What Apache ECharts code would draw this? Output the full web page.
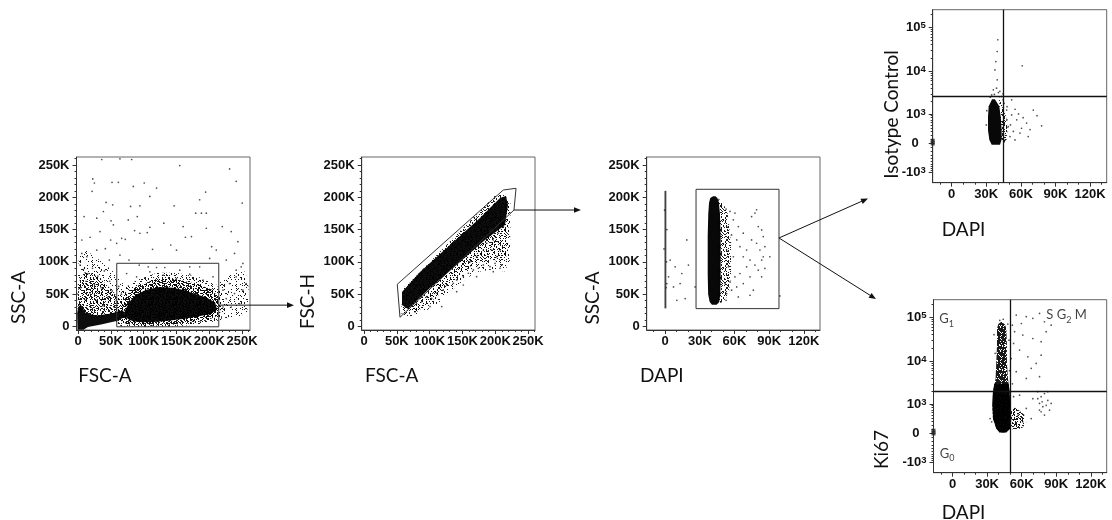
<!DOCTYPE html>
<html><head><meta charset="utf-8">
<script src="https://cdn.jsdelivr.net/npm/echarts@6/dist/echarts.min.js"></script>
<style>html,body{margin:0;padding:0;background:#fff}#c{width:1112px;height:520px}</style>
</head><body><div id="c"></div>
<script>
// ---------- tick values ----------
const fscTicks = [0, 50, 100, 150, 200, 250];               // K
const fscMinor = [10,20,30,40,60,70,80,90,110,120,130,140,160,170,180,190,210,220,230,240,260];
const dapiTicks = [0, 30, 60, 90, 120];                     // K
const dapiMinor = [-10,10,20,40,50,70,80,100,110,130];
const biexTicks = [-1000, 0, 1000, 10000, 100000];
const biexTickBase = ['-10', '0', '10', '10', '10'];
const biexTickExp = ['3', '', '3', '4', '5'];
const biexMinor = [-900,-800,-700,-600,-500,-400,-300,-200,-100,100,200,300,400,500,600,700,800,900,
  2000,3000,4000,5000,6000,7000,8000,9000,20000,30000,40000,50000,60000,70000,80000,90000,200000];

// ---------- Panel 1: FSC-A (K) vs SSC-A (K) ----------
const p1Core = [[71,24],[78,38],[88,49],[104,57],[124,61],[145,60],[162,56],[180,50],[196,45],[209,37],[212,26],[201,19],[180,15],[160,11.5],[130,8],[109,6.5],[90,7],[78,10],[72,15]];
const p1Halo = [[60,12],[62,30],[72,50],[90,63],[120,74],[150,73],[180,66],[205,57],[216,42],[217,18],[195,9],[150,3],[110,1],[75,3]];
const p1HaloOuter = [[56,8],[58,35],[68,58],[90,72],[120,83],[150,83],[185,76],[210,66],[219,50],[219,10],[190,4],[150,0],[100,-1],[66,0]];
const p1Debris = [[-1,-5],[-1.5,20],[0,30],[4,34],[8,27],[12,20],[30,17],[50,20],[68,25],[74,16],[60,9],[35,3],[15,-1],[8,-5]];
const p1LeftHalo = [[-1,20],[0,55],[3,75],[10,84],[22,82],[38,70],[55,52],[64,38],[62,22],[35,14],[10,18]];
const p1LeftHalo2 = [[-1,50],[1,110],[12,118],[30,105],[50,88],[68,70],[70,40],[40,30],[10,35]];
const p1RightHalo = [[212,15],[216,70],[235,82],[255,85],[260,60],[258,20],[235,12]];
const p1Gate = [[58.9,-0.5],[214.5,-0.5],[214.5,97.8],[58.9,97.8]];
const p1Dots = [[36.0,258.5],[63.8,259.5],[81.6,258.5],[155.0,249.1],[22.3,228.4],[24.8,222.1],[51.7,223.2],[61.3,223.2],[84.1,216.9],[100.8,222.1],[119.6,214.3],[21.3,209.2],[42.6,192.0],[52.7,188.4],[80.0,185.8],[94.2,186.8],[109.4,201.4],[146.4,186.8],[185.4,196.2],[194.5,208.1],[231.0,243.9],[241.1,224.7],[250.3,191.0],[9.1,170.2],[28.4,167.6],[38.5,178.0],[50.2,163.5],[53.7,157.3],[76.5,165.0],[90.2,170.2],[109.4,153.6],[130.7,159.9],[160.1,154.7],[179.3,175.4],[188.0,175.4],[195.5,175.4],[219.9,154.7],[233.5,146.9],[5.6,133.9],[18.2,138.1],[33.4,146.9],[49.6,133.9],[58.8,128.7],[66.4,136.5],[71.9,134.9],[86.1,148.4],[94.2,144.3],[105.4,145.3],[113.5,119.4],[141.3,126.1],[150.0,118.3],[163.6,138.1],[172.8,139.1],[195.5,152.1],[203.7,123.5],[210.7,118.3],[243.7,131.3],[5.6,113.1],[13.2,108.0],[28.4,118.3],[41.5,120.4],[47.6,102.8],[63.8,110.5],[77.5,102.8],[93.2,95.0],[106.9,92.4],[119.6,91.3],[132.2,91.3],[155.0,87.2],[170.2,92.4],[185.4,92.4],[200.6,105.4],[226.0,102.8],[238.6,113.1],[251.3,97.6],[241.1,87.2],
  [220.9,56.1],[231.0,66.4],[241.1,76.8],[248.7,92.4],[226.0,43.1],[238.6,50.9],[251.3,56.1],[233.5,30.1],[220.9,30.1],[246.2,35.3],[256.3,66.4],
  [74.0,82.0],[89.2,76.8],[109.4,84.6],[129.7,79.4],[150.0,74.2],[170.2,81.0],[190.5,71.6],[205.7,76.8],
  [3,95],[8,88],[15,82],[22,90],[30,78],[40,86],[48,70],[12,70],[25,65],[35,60],[52,55],[4,60],[18,52],[45,45],[58,40],[10,42],[28,40],[38,32],[55,30],[62,62],[66,50]];

// ---------- Panel 2: FSC-A (K) vs FSC-H (K) ----------
const p2Core = [[57.9,53.4],[85.3,84.4],[131.0,126.2],[176.7,168.0],[207.2,198.9],[216.3,202.0],[219.4,188.1],[214.8,157.1],[184.3,133.9],[146.3,99.8],[100.5,59.6],[67.0,27.1],[57.9,33.3]];
const p2Halo = [[56,20],[80,22],[110,45],[140,75],[165,95],[190,105],[210,100],[218,110],[220,150],[221,190],[215,204],[200,203],[60,58]];
const p2HaloOuter = [[55,14],[85,18],[115,38],[145,66],[170,84],[195,88],[214,85],[222,100],[223,150],[223,195],[60,60]];
const p2Gate = [[50.7,65.3],[54.8,14.2],[228.5,180.3],[231.6,213.9],[212.2,211.3]];
const p2Dots = [[62.5,30.7],[70.1,33.3],[80.2,35.9],[87.9,38.4],[95.5,46.1],[103.1,43.6],[110.8,51.4],[120.8,56.5],[126.0,64.2],[136.1,66.9],[141.2,72.0],[151.3,77.1],[159.0,82.4],[166.6,87.5],[174.2,90.1],[181.8,95.2],[192.0,92.6],[199.6,97.8],[207.2,90.1],[209.8,95.2],[202.2,108.1],[194.6,118.4],[187.0,128.8],[197.0,133.9],[204.6,144.3],[192.0,149.4],[181.8,118.4],[171.5,108.1],[161.5,100.3],[179.3,139.0],[207.2,118.4],[212.2,154.5],[199.6,162.2],[118.4,30.7],[100.6,30.7],[141.2,53.9],[171.5,77.1],[197.0,84.8],[151.3,64.2]];

// ---------- Panel 3: DAPI (K) vs SSC-A (K) ----------
const p3Line = [[-0.6,28],[1.0,28],[1.0,210],[-0.6,210]];
const p3Core = [[41.5,201.5],[39,199],[38,192],[37.3,175],[36.8,140],[36.8,80],[37.2,50],[38.5,38],[40.5,33.5],[44.5,33.5],[46.8,38],[47.7,50],[48.0,80],[48.0,140],[47.4,175],[46.5,192],[45.2,199],[43.5,201.5]];
const p3Halo = [[46,198],[50,192],[54,175],[57,130],[57,80],[55,50],[50,38],[46,36]];
const p3Gate = [[26.7,27.6],[98.5,27.6],[98.5,212.4],[26.7,212.4]];
const p3Dots = [[52.7,181.7],[56.1,178.1],[60.4,175.5],[53.2,154.7],[57.5,141.7],[61.9,134.0],[64.7,123.5],[67.6,107.9],[59.0,107.9],[53.2,118.4],[54.7,92.4],[60.4,76.8],[64.7,82.0],[70.5,92.4],[73.4,102.8],[77.7,175.5],[79.1,180.7],[74.8,170.2],[80.6,154.7],[83.5,149.5],[84.9,139.1],[79.1,128.8],[82.0,118.4],[84.9,107.9],[86.3,123.5],[83.5,102.8],[77.7,95.0],[80.6,87.2],[73.4,76.8],[67.6,66.4],[61.9,61.2],[57.5,56.1],[53.2,50.9],[63.3,45.7],[73.4,48.3],[83.5,76.8],[86.3,89.8],[51.8,66.4],[56.1,69.0],[70.5,118.4],[74.8,134.0],[67.6,144.4],[63.3,154.7],[59.0,165.1],[90.6,107.9],[76.3,56.1],[52.7,40.5],[99.3,47.2],
  [4.3,102.8],[8.6,92.4],[14.4,82.0],[20.1,95.0],[12.9,66.4],[17.3,43.1],[25.9,61.2],[7.2,61.2],[18.7,134.0],[10.1,40.5],[1.4,66.4],[2.9,76.8],[-0.5,180],[1.5,150],[-1,120],[1.2,100],[0.8,60]];

// ---------- Panel 4: DAPI (K) vs Isotype Control (raw) ----------
const p4Core = [[35,2240],[37.5,2240],[41.3,1530],[42.5,860],[43.3,340],[43.3,79],[41.9,-40],[34.7,-40],[32.6,79],[31.5,340],[31.5,860],[32.1,1530]];
const p4Halo = [[41,2600],[44,1500],[47,900],[48.5,400],[47.5,50],[43,-40]];
const p4Edge = [[-16.5,20],[-16.5,70],[-16.5,-20]];
const p4Dots = [[36.1,3700],[38.9,4050],[41.8,3420],[43.2,2600],[34.7,2830],[44.6,2170],[39.5,6300],[38.3,16400],[39.5,27900],[40.0,51800],[61.2,13200],[37.5,10600],
  [47.7,1240],[52.0,940],[56.4,700],[49.1,440],[53.5,295],[59.2,250],[65.0,570],[70.8,1240],[78.0,470],[66.4,160],[60.6,390],[52.0,2170],[50.6,160],[54.9,78],[46.3,78],
  [45.5,1800],[48,1500],[44.5,3000],[40.5,3200],[37,2900],[33.5,2500],[30.5,1200],[30,500],[45,200],[58,1000],[62,800],[68,350],[74,900],[48,700],[51,500],[55,1300]];

// ---------- Panel 5: DAPI (K) vs Ki67 (raw) ----------
const p5Core = [[42.4,78900],[45.5,68000],[46.7,55600],[47.2,23000],[47.2,9600],[48.1,4000],[49.5,1970],[50.1,920],[51.0,380],[50.1,113],[46.5,17],[40.9,17],[38.0,113],[35.1,380],[34.6,920],[35.1,1970],[37.4,4000],[38.0,9600],[38.6,23000],[38.6,55600],[39.8,70000]];
const p5CoreLow = [[36.2,3000],[48.8,3000],[49.5,1970],[50.1,920],[51.0,380],[50.1,113],[46.5,17],[40.9,17],[38.0,113],[35.1,380],[34.6,920],[35.1,1970]];
const p5Tail = [[49,900],[56,750],[62,520],[64,260],[60,110],[50,90]];
const p5Edge = [[-16.5,20],[-16.5,70],[-16.5,-20]];
const p5Dots = [[55.3,112000],[59.7,72000],[64.0,103000],[69.7,94400],[75.5,122000],[79.8,78900],[85.6,66000],[53.9,46900],[61.0,39100],[69.7,32700],[76.9,27600],[81.3,46900],[58.2,17800],[65.4,12500],[72.6,8800],[55.3,5700],[64.0,4000],[75.5,4380],[68.3,6800],[51.0,11400],[51.9,66000],[53.0,25200],[76.9,13600],
  [74.0,1970],[76.9,1500],[79.8,1780],[82.7,1220],[75.5,1030],[78.4,850],[81.3,920],[84.2,690],[76.9,620],[79.8,495],[74.0,1340],[82.7,1970],[77.8,1130],[85.6,1030],[75.5,690],
  [58.2,1630],[64.0,765],[68.3,380],[61.0,285],[69.7,1340],[56.8,495],[34.0,285],[32.6,380],
  [44,90000],[41,85000],[48,70000],[36,40000],[49,30000],[37,15000],[49.5,6000],[52,3000],[53,1500]];

// quadrant thresholds
const p4QuadX = 44.7, p4QuadY = 2600;
const p5QuadX = 50.4, p5QuadY = 2000;

// ---------- scales / helpers ----------
const BIEX_C = 450;
const biex = v => Math.asinh(v / BIEX_C);
const tb = arr => arr.map(([x, y]) => [x, biex(y)]);

const INK = '#111';
const TICK_FAMILY = '"Liberation Sans", Arial, sans-serif';
const tickFont = {fontSize: 13, fontWeight: 'bold', fontFamily: TICK_FAMILY, color: INK};
const kFmt = v => (Math.abs(v) < 1e-9 ? '0' : Math.round(v) + 'K');
const biexMajorU = biexTicks.map(biex);
const biexFmt = u => {
  let bi = 0, bd = Infinity;
  biexMajorU.forEach((t, i) => { const d = Math.abs(t - u); if (d < bd) { bd = d; bi = i; } });
  return biexTickExp[bi] ? `{b|${biexTickBase[bi]}}{s|${biexTickExp[bi]}}` : `{b|${biexTickBase[bi]}}{p| }`;
};
const supRich = {
  b: {fontSize: 13, fontWeight: 'bold', fontFamily: TICK_FAMILY, color: INK, lineHeight: 14, padding: [6, 0, 0, 0], verticalAlign: 'bottom'},
  s: {fontSize: 9.5, fontWeight: 'bold', fontFamily: TICK_FAMILY, color: INK, lineHeight: 9, verticalAlign: 'top'},
  p: {fontSize: 9, width: 7, lineHeight: 9}
};

// speckle texture used to shade the medium-density regions of each population
function speckle(density) {
  const n = 24, cv = document.createElement('canvas');
  cv.width = n; cv.height = n;
  const ctx = cv.getContext('2d');
  ctx.fillStyle = 'rgba(0,0,0,0.9)';
  for (let i = 0; i < n; i++) for (let j = 0; j < n; j++) {
    const h = (((i * 374761393) ^ (j * 668265263) ^ 0x5bd1e995) >>> 0);
    const hh = ((h ^ (h >>> 13)) * 1274126177 >>> 0) % 1000;
    if (hh < density * 1000) ctx.fillRect(i, j, 1, 1);
  }
  return {type: 'pattern', image: cv, repeat: 'repeat'};
}

const grids = [
  {left: 76.5, top: 157, width: 173.5, height: 173},
  {left: 361.7, top: 157, width: 173.3, height: 173},
  {left: 646.7, top: 157, width: 173.3, height: 173},
  {left: 932.7, top: 9.7, width: 174, height: 173},
  {left: 933.5, top: 299.7, width: 173.2, height: 173}
].map(g => Object.assign(g, {show: true, borderColor: '#666', borderWidth: 1, backgroundColor: 'transparent', containLabel: false}));

function axisPair(dim, gi, min, max, majors, minors, fmt, rich) {
  const pos = dim === 'x' ? 'bottom' : 'left';
  const major = {
    type: 'value', gridIndex: gi, min, max, position: pos, offset: 0, scale: false,
    axisLine: {show: true, onZero: false, lineStyle: {color: '#333', width: 1}},
    axisTick: {show: true, customValues: majors, length: 4, inside: false, lineStyle: {color: '#333', width: 1}},
    axisLabel: Object.assign({show: true, customValues: majors, formatter: fmt, margin: dim === 'x' ? 5 : 7, hideOverlap: false, showMinLabel: true, showMaxLabel: true}, tickFont, rich ? {rich} : {}),
    splitLine: {show: false}, minorTick: {show: false}, minorSplitLine: {show: false}
  };
  const minor = {
    type: 'value', gridIndex: gi, min, max, position: pos, offset: 0,
    axisLine: {show: false, onZero: false},
    axisTick: {show: true, customValues: minors, length: 2, inside: false, lineStyle: {color: '#333', width: 1}},
    axisLabel: {show: false},
    splitLine: {show: false}
  };
  return [major, minor];
}

const uMin = -2.08, uMax = 7.02;
const xAxes = [
  ...axisPair('x', 0, -2.5, 262.144, fscTicks, fscMinor, kFmt),
  ...axisPair('x', 1, -3.5, 260.5, fscTicks, fscMinor, kFmt),
  ...axisPair('x', 2, -16, 134, dapiTicks, dapiMinor, kFmt),
  ...axisPair('x', 3, -16.5, 134.5, dapiTicks, dapiMinor, kFmt),
  ...axisPair('x', 4, -16.5, 133.8, dapiTicks, dapiMinor, kFmt)
];
const yAxes = [
  ...axisPair('y', 0, -5.5, 262.4, fscTicks, fscMinor, kFmt),
  ...axisPair('y', 1, -5.5, 262.4, fscTicks, fscMinor, kFmt),
  ...axisPair('y', 2, -5.5, 262.4, fscTicks, fscMinor, kFmt),
  ...axisPair('y', 3, uMin, uMax, biexTicks.map(biex), biexMinor.map(biex), biexFmt, supRich),
  ...axisPair('y', 4, uMin, uMax, biexTicks.map(biex), biexMinor.map(biex), biexFmt, supRich)
];

function polySeries(gi, pts, style, z) {
  return {
    type: 'custom', xAxisIndex: 2 * gi, yAxisIndex: 2 * gi, data: pts, z, silent: true, clip: true,
    renderItem: (params, api) => {
      if (params.dataIndex !== 0) return null;
      return {type: 'polygon', shape: {points: pts.map(p => api.coord(p)), smooth: 0}, style};
    }
  };
}
const solid = a => ({fill: `rgba(0,0,0,${a})`, stroke: 'none'});
const spk = d => ({fill: speckle(d), stroke: 'none'});
const gateS = {fill: 'none', stroke: '#333', lineWidth: 1};
function dots(gi, pts, extra) {
  return Object.assign({
    type: 'scatter', xAxisIndex: 2 * gi, yAxisIndex: 2 * gi, data: pts, z: 3, silent: true,
    symbol: 'circle', symbolSize: 1.7, itemStyle: {color: '#222'}
  }, extra || {});
}
const quadLine = (qx, qy) => ({
  silent: true, symbol: ['none', 'none'], label: {show: false}, animation: false,
  lineStyle: {color: INK, width: 1.3, type: 'solid'}, data: [{xAxis: qx}, {yAxis: qy}]
});

const gLabRich = {
  n: {fontSize: 13, fontFamily: 'Lato, sans-serif', color: INK, lineHeight: 14, verticalAlign: 'top'},
  sub: {fontSize: 9, fontFamily: 'Lato, sans-serif', color: INK, lineHeight: 9, padding: [7, 0, 0, 0], verticalAlign: 'top'}
};
const lab = (x, y, txt) => ({value: [x, biex(y)], label: {formatter: txt}});

const series = [
  // panel 1
  polySeries(0, p1LeftHalo2, spk(0.12), 1),
  polySeries(0, p1RightHalo, spk(0.12), 1),
  polySeries(0, p1HaloOuter, spk(0.2), 1),
  polySeries(0, p1LeftHalo, spk(0.38), 1),
  polySeries(0, p1Halo, spk(0.5), 1),
  polySeries(0, p1Core, solid(0.95), 2),
  polySeries(0, p1Debris, solid(0.95), 2),
  dots(0, p1Dots),
  polySeries(0, p1Gate, gateS, 4),
  // panel 2
  polySeries(1, p2HaloOuter, spk(0.12), 1),
  polySeries(1, p2Halo, spk(0.3), 1),
  polySeries(1, p2Core, solid(0.95), 2),
  dots(1, p2Dots),
  polySeries(1, p2Gate, gateS, 4),
  // panel 3
  polySeries(2, p3Line, solid(0.75), 2),
  polySeries(2, p3Halo, spk(0.3), 1),
  polySeries(2, p3Core, solid(0.97), 2),
  dots(2, p3Dots),
  polySeries(2, p3Gate, gateS, 4),
  // panel 4
  polySeries(3, tb(p4Halo), spk(0.35), 1),
  polySeries(3, tb(p4Core), solid(0.97), 2),
  dots(3, tb(p4Dots), {markLine: quadLine(p4QuadX, biex(p4QuadY))}),
  dots(3, tb(p4Edge), {symbol: 'rect', symbolSize: [4, 3], clip: false}),
  // panel 5
  polySeries(4, tb(p5Tail), spk(0.4), 1),
  polySeries(4, tb(p5Core), spk(0.82), 2),
  polySeries(4, tb(p5CoreLow), solid(0.97), 2),
  dots(4, tb(p5Dots), {markLine: quadLine(p5QuadX, biex(p5QuadY))}),
  dots(4, tb(p5Edge), {symbol: 'rect', symbolSize: [4, 3], clip: false}),
  {
    type: 'scatter', xAxisIndex: 8, yAxisIndex: 8, symbolSize: 0, silent: true, z: 6, clip: false,
    label: {show: true, position: 'right', distance: 0, rich: gLabRich},
    data: [lab(-11.5, 88000, '{n|G}{sub|1}'), lab(81.4, 108000, '{n|S G}{sub|2}{n| M}'), lab(-11, -600, '{n|G}{sub|0}')]
  }
];

const chart = echarts.init(document.getElementById('c'), null, {renderer: 'canvas', width: 1112, height: 520});
chart.setOption({animation: false, backgroundColor: '#fff', grid: grids, xAxis: xAxes, yAxis: yAxes, series});

// ---------- annotations: axis titles and arrows ----------
const TF = '19px Lato, sans-serif';
function txt(x, y, s, rot, align) {
  return {type: 'text', x, y, rotation: rot ? Math.PI / 2 : 0, silent: true,
    style: {text: s, x: 0, y: 0, font: TF, fill: INK, align: align || 'center', textAlign: align || 'center', verticalAlign: 'middle', textVerticalAlign: 'middle'}};
}
function arrowEls(p1, p2) {
  const dx = p2[0] - p1[0], dy = p2[1] - p1[1], L = Math.hypot(dx, dy), ux = dx / L, uy = dy / L;
  const hl = 7, hw = 2.8, bx = p2[0] - ux * hl, by = p2[1] - uy * hl;
  return [
    {type: 'line', silent: true, shape: {x1: p1[0], y1: p1[1], x2: bx + ux, y2: by + uy}, style: {stroke: INK, lineWidth: 1}},
    {type: 'polygon', silent: true, shape: {points: [[p2[0], p2[1]], [bx - uy * hw, by + ux * hw], [bx + uy * hw, by - ux * hw]]}, style: {fill: INK}}
  ];
}
const px = (gi, pt) => chart.convertToPixel({xAxisIndex: 2 * gi, yAxisIndex: 2 * gi}, pt);
const a1 = px(0, [p1Gate[1][0], 33]);
const a2 = px(1, p2Gate[2]);
const a3 = px(2, [p3Gate[1][0], 137]);
const graphics = [
  txt(18.5, 297.5, 'SSC-A', true), txt(78.3, 376, 'FSC-A', false, 'left'),
  txt(308, 301.5, 'FSC-H', true), txt(365, 376, 'FSC-A', false, 'left'),
  txt(593, 298, 'SSC-A', true), txt(640, 376, 'DAPI', false, 'left'),
  txt(891.7, 114.5, 'Isotype Control', true), txt(941.7, 229.5, 'DAPI', false, 'left'),
  txt(881.7, 449.5, 'Ki67', true), txt(941.7, 512.5, 'DAPI', false, 'left'),
  ...arrowEls(a1, [294, a1[1]]),
  ...arrowEls(a2, [581, a2[1]]),
  ...arrowEls(a3, [868, 198.5]),
  ...arrowEls(a3, [876, 299])
];
chart.setOption({graphic: graphics});
</script></body></html>
